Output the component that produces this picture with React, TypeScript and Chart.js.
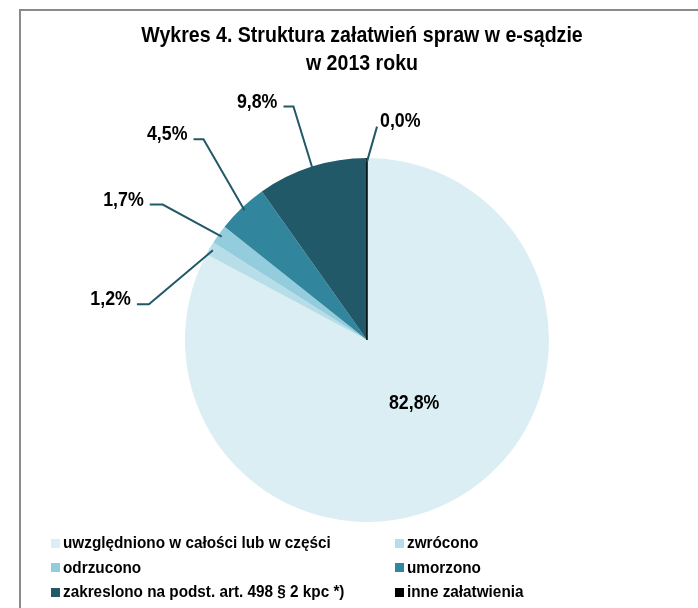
import React, { useEffect, useRef } from "react";
import { Chart, registerables } from "chart.js";

Chart.register(...registerables);

const TITLE_LINES = ["Wykres 4. Struktura załatwień spraw w e-sądzie", "w 2013 roku"];
const CATEGORIES = [
  "uwzględniono w całości lub w części",
  "zwrócono",
  "odrzucono",
  "umorzono",
  "zakreslono na podst. art. 498 § 2 kpc *)",
  "inne załatwienia",
];
const VALUES = [82.8, 1.2, 1.7, 4.5, 9.8, 0.0];
const VALUE_LABELS = ["82,8%", "1,2%", "1,7%", "4,5%", "9,8%", "0,0%"];
const COLORS = ["#DBEEF3", "#B7DEE8", "#93CDDD", "#31859C", "#215968", "#000000"];

// label layout (offsets of the leader-line elbow from the slice edge point)
const LEADERS: ({ dx: number; dy: number; run: number } | null)[] = [
  null,
  { dx: -64, dy: 54, run: -12 },
  { dx: -59, dy: -32, run: -13 },
  { dx: -41, dy: -71, run: -10 },
  { dx: -19.5, dy: -63.5, run: -10 },
  { dx: 10, dy: -35, run: 0 },
];

const FONT = '"Liberation Sans", Arial, sans-serif';
const NARROW = 0.89;
const LEGEND_NARROW = 0.9;
const LEADER_COLOR = "#215968";

function narrowText(ctx: CanvasRenderingContext2D, text: string, x: number, y: number) {
  ctx.save();
  ctx.translate(x, y);
  ctx.scale(NARROW, 1);
  ctx.fillText(text, 0, 0);
  ctx.restore();
}

const labelPlugin = {
  id: "pieLabels",
  afterDatasetsDraw(chart: any) {
    const ctx = chart.ctx as CanvasRenderingContext2D;
    const meta = chart.getDatasetMeta(0);
    ctx.save();
    ctx.font = `bold 20px ${FONT}`;
    ctx.fillStyle = "#000";
    meta.data.forEach((arc: any, i: number) => {
      const { x, y, startAngle, endAngle, outerRadius } = arc.getProps(
        ["x", "y", "startAngle", "endAngle", "outerRadius"],
        true
      );
      const mid = (startAngle + endAngle) / 2;
      if (VALUES[i] === 0) {
        ctx.strokeStyle = "#000";
        ctx.lineWidth = 1.5;
        ctx.beginPath();
        ctx.moveTo(x, y);
        ctx.lineTo(x + Math.cos(startAngle) * outerRadius, y + Math.sin(startAngle) * outerRadius);
        ctx.stroke();
      }
      const lead = LEADERS[i];
      if (!lead) {
        const r = outerRadius * 0.44;
        ctx.textAlign = "center";
        ctx.textBaseline = "middle";
        narrowText(ctx, VALUE_LABELS[i], x + Math.cos(mid) * r + 6, y + Math.sin(mid) * r - 5);
        return;
      }
      const ex = x + Math.cos(mid) * outerRadius * 0.98;
      const ey = y + Math.sin(mid) * outerRadius * 0.98;
      const bx = ex + lead.dx;
      const by = ey + lead.dy;
      const hx = bx + lead.run;
      ctx.strokeStyle = LEADER_COLOR;
      ctx.lineWidth = 2;
      ctx.beginPath();
      ctx.moveTo(ex, ey);
      ctx.lineTo(bx, by);
      if (lead.run !== 0) ctx.lineTo(hx, by);
      ctx.stroke();
      ctx.textBaseline = "alphabetic";
      if (lead.run < 0) {
        ctx.textAlign = "right";
        narrowText(ctx, VALUE_LABELS[i], hx - 6, by + 1);
      } else {
        ctx.textAlign = "left";
        narrowText(ctx, VALUE_LABELS[i], bx + 3, by);
      }
    });
    ctx.restore();
  },
};

export default function App() {
  const ref = useRef<HTMLCanvasElement>(null);
  useEffect(() => {
    const chart = new Chart(ref.current!, {
      type: "pie",
      data: {
        labels: CATEGORIES,
        datasets: [
          {
            data: VALUES,
            backgroundColor: COLORS,
            borderWidth: 0,
          },
        ],
      },
      options: {
        responsive: false,
        animation: false,
        layout: { padding: { left: 185, right: 149, top: 158, bottom: 86 } },
        plugins: {
          legend: { display: false },
          tooltip: { enabled: false },
          title: { display: false },
        },
      },
      plugins: [labelPlugin],
    });
    return () => chart.destroy();
  }, []);

  return (
    <div
      style={{
        position: "fixed",
        left: 0,
        top: 0,
        width: 698,
        height: 608,
        background: "#fff",
        overflow: "hidden",
        fontFamily: FONT,
      }}
    >
      <div
        style={{
          position: "absolute",
          left: 19,
          top: 9,
          width: 800,
          height: 700,
          borderLeft: "2px solid #8a8a8a",
          borderTop: "2px solid #8a8a8a",
        }}
      />
      <canvas
        ref={ref}
        width={698}
        height={608}
        style={{ position: "absolute", left: 0, top: 0, width: 698, height: 608 }}
      />
      <div
        style={{
          position: "absolute",
          left: 0,
          top: 21,
          width: 724,
          textAlign: "center",
          fontWeight: "bold",
          fontSize: 22,
          lineHeight: "28px",
          color: "#000",
        }}
      >
        {TITLE_LINES.map((t, i) => (
          <div key={i}>
            <span
              style={{
                display: "inline-block",
                whiteSpace: "nowrap",
                transform: `scaleX(${NARROW})`,
                transformOrigin: "center",
              }}
            >
              {t}
            </span>
          </div>
        ))}
      </div>
      <div
        style={{
          position: "absolute",
          left: 51,
          top: 531,
          display: "grid",
          gridTemplateColumns: "344px 260px",
          gridAutoRows: "24.5px",
          fontWeight: "bold",
          fontSize: 17,
          color: "#000",
        }}
      >
        {CATEGORIES.map((c, i) => (
          <div key={i} style={{ display: "flex", alignItems: "center", whiteSpace: "nowrap" }}>
            <span
              style={{
                display: "inline-block",
                flexShrink: 0,
                width: 9,
                height: 9,
                background: COLORS[i],
                marginRight: 3,
              }}
            />
            <span
              style={{
                display: "inline-block",
                whiteSpace: "nowrap",
                transform: `scaleX(${LEGEND_NARROW})`,
                transformOrigin: "left center",
              }}
            >
              {c}
            </span>
          </div>
        ))}
      </div>
    </div>
  );
}
